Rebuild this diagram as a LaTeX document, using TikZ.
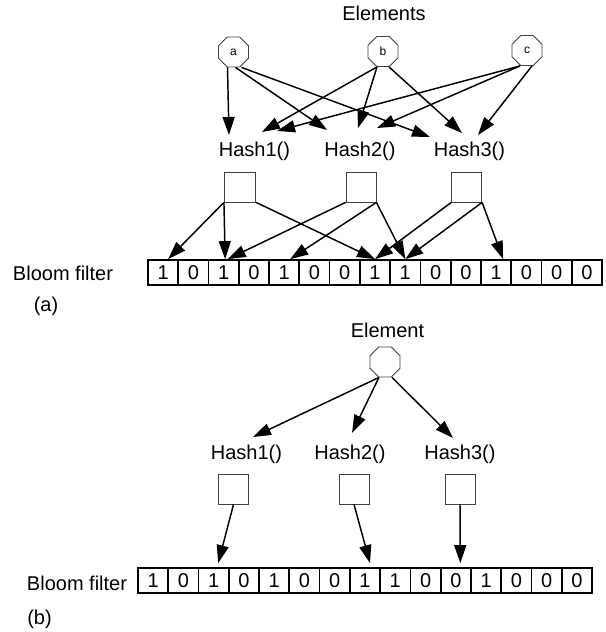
\documentclass[tikz,border=0pt]{standalone}
\usepackage{fontspec}
\setmainfont{Liberation Sans}
\usetikzlibrary{shapes.geometric,arrows.meta,calc}
\begin{document}
\begin{tikzpicture}[x=0.75pt,y=-0.75pt,
  txt/.style={font=\fontsize{15pt}{18pt}\selectfont, inner sep=0pt},
  elem/.style={regular polygon, regular polygon sides=8, minimum size=24.4pt, inner sep=0pt,
    draw=black!75, line width=0.6pt, font=\fontsize{9pt}{11pt}\selectfont},
  hbox/.style={draw=black!75, line width=0.6pt, minimum width=22.5pt, minimum height=22.5pt, inner sep=0pt},
  cell/.style={draw, line width=1.3pt, minimum width=22.7pt, minimum height=18.75pt, inner sep=0pt,
    font=\fontsize{15pt}{18pt}\selectfont},
  arr/.style={-{Triangle[length=13.5pt,width=9pt]}, line width=1.1pt}
]
\useasboundingbox (0,0) rectangle (606,632);

% ---------- (a) ----------
\node[txt, anchor=base] (elems) at (384,20.7) {Elements};
\node[elem] (a) at (233.5,52) {a};
\node[elem] (b) at (383,51.5) {b};
\node[elem] (c) at (527,50.5) {c};

\node[txt, anchor=base] (h1a) at (254.5,156) {Hash1()};
\node[txt, anchor=base] (h2a) at (360,156) {Hash2()};
\node[txt, anchor=base] (h3a) at (469.5,156) {Hash3()};

\node[hbox, minimum width=23.5pt] (b1a) at (240,187) {};
\node[hbox] (b2a) at (361,187) {};
\node[hbox] (b3a) at (466.7,187) {};

\foreach \v [count=\i] in {1,0,1,0,1,0,0,1,1,0,0,1,0,0,0}
  \node[cell] (fa\i) at ({148+(\i-0.5)*30.27},272.5) {\v};

\node[txt, anchor=base] (bfa) at (63,280) {Bloom filter};
\node[txt, anchor=base] (laba) at (46,311) {(a)};

\draw[arr] ($(a.south)+(-6,0)$) -- ($(h1a.base)+(-25.5,-21)$);
\draw[arr] ($(a.south)+(2,0)$) -- ($(h2a.base)+(-33,-26)$);
\draw[arr] ($(a.south)+(8,0)$) -- ($(h3a.base)+(-39.5,-19)$);
\draw[arr] ($(b.south)+(-6,0)$) -- ($(h1a.base)+(7.5,-24)$);
\draw[arr] ($(b.south)+(-6,0)$) -- ($(h2a.base)+(-2,-28)$);
\draw[arr] ($(b.south)+(6,0)$) -- ($(h3a.base)+(-7.5,-23)$);
\draw[arr] ($(c.south)+(-7,0)$) -- ($(h1a.base)+(22.5,-25)$);
\draw[arr] ($(c.south)+(-7,0)$) -- ($(h2a.base)+(17,-28)$);
\draw[arr] ($(c.south)+(5,0)$) -- ($(h3a.base)+(8.5,-21)$);

\draw[arr] (b1a.south west) -- ($(fa1.north)+(5,0)$);
\draw[arr] (b1a.south west) -- ($(fa3.north)+(1.5,0)$);
\draw[arr] (b1a.south east) -- (fa8.north);
\draw[arr] (b2a.south west) -- ($(fa3.north)+(4,0)$);
\draw[arr] (b2a.south east) -- ($(fa5.north)+(6,0)$);
\draw[arr] (b2a.south east) -- (fa9.north);
\draw[arr] (b3a.south west) -- (fa8.north);
\draw[arr] (b3a.south east) -- (fa9.north);
\draw[arr] (b3a.south east) -- ($(fa12.north)+(7,0)$);

% ---------- (b) ----------
\node[txt, anchor=base] (elem) at (387.5,337) {Element};
\node[elem] (oct) at (385,362) {};

\node[txt, anchor=base] (h1b) at (246.5,459) {Hash1()};
\node[txt, anchor=base] (h2b) at (350,459) {Hash2()};
\node[txt, anchor=base] (h3b) at (460,459) {Hash3()};

\node[hbox] (b1b) at (233.5,489) {};
\node[hbox] (b2b) at (354,489) {};
\node[hbox] (b3b) at (460,489) {};

\foreach \v [count=\i] in {1,0,1,0,1,0,0,1,1,0,0,1,0,0,0}
  \node[cell] (fb\i) at ({138+(\i-0.5)*30.27},580.5) {\v};

\node[txt, anchor=base] (bfb) at (77,590) {Bloom filter};
\node[txt, anchor=base] (labb) at (39.5,624.5) {(b)};

\draw[arr] ($(oct.south)+(-6,0)$) -- ($(h1b.base)+(6.5,-22)$);
\draw[arr] ($(oct.south)+(-6,0)$) -- ($(h2b.base)+(2,-26)$);
\draw[arr] ($(oct.south)+(7,0)$) -- ($(h3b.base)+(-7,-21)$);

\draw[arr] (b1b.south) -- ($(fb3.north)+(4.5,-4)$);
\draw[arr] (b2b.south) -- ($(fb8.north)+(5,-4)$);
\draw[arr] (b3b.south) -- ($(fb11.north)+(4.5,-4)$);
\end{tikzpicture}
\end{document}
